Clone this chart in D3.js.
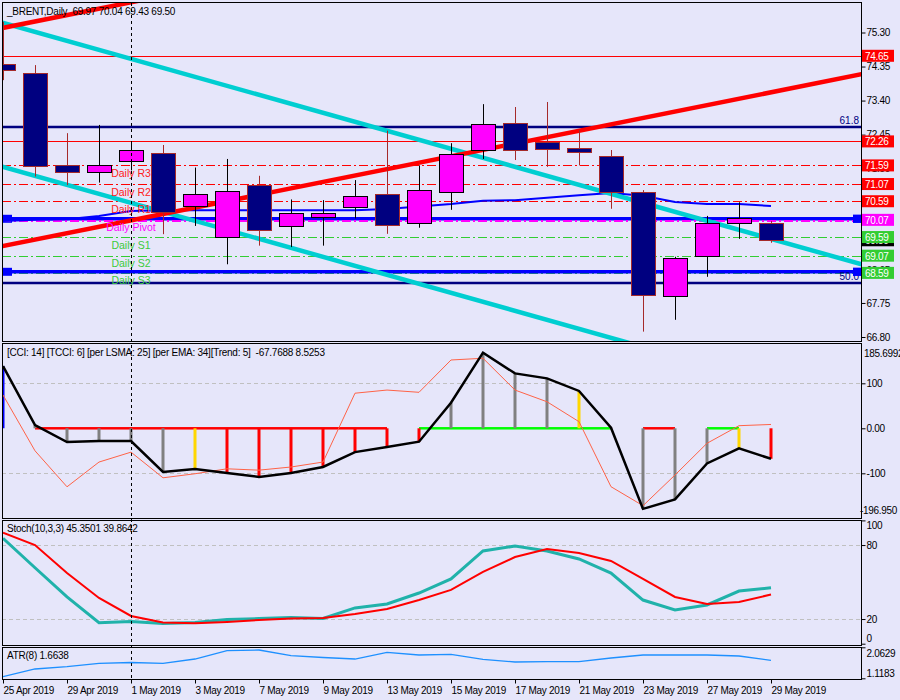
<!DOCTYPE html>
<html><head><meta charset="utf-8">
<script src="https://cdn.jsdelivr.net/npm/d3@7"></script>
<style>
html,body{margin:0;padding:0;background:#E6E6FA;}
svg text{font-family:"Liberation Sans",Arial,sans-serif;font-size:10px;}
</style></head><body>
<svg id="c" width="900" height="700"></svg>
<script>
// ---------------- DATA ----------------
const symbolTitle = "_BRENT,Daily";
const dates = ["25 Apr","26 Apr","29 Apr","30 Apr","1 May","2 May","3 May","6 May","7 May","8 May","9 May","10 May","13 May","14 May","15 May","16 May","17 May","20 May","21 May","22 May","23 May","24 May","27 May","28 May","29 May"];
const dateTickLabels = ["25 Apr 2019","29 Apr 2019","1 May 2019","3 May 2019","7 May 2019","9 May 2019","13 May 2019","15 May 2019","17 May 2019","21 May 2019","23 May 2019","27 May 2019","29 May 2019"];
const openP  = [74.42,74.17,71.60,71.41,71.71,71.94,70.46,69.60,71.04,69.89,70.14,70.42,70.78,69.97,70.84,72.01,72.77,72.25,72.07,71.84,70.84,67.94,69.05,69.97,69.97];
const highP  = [75.60,74.39,72.49,72.72,72.22,72.16,71.53,71.77,71.30,70.64,70.62,71.18,72.56,71.59,72.21,73.30,73.22,73.36,72.58,72.02,70.90,69.04,70.18,70.56,70.04];
const lowP   = [73.97,71.28,71.04,71.11,71.45,69.67,69.90,68.83,69.35,69.31,69.35,70.11,69.68,69.85,70.35,71.77,71.74,71.55,71.59,70.38,66.95,67.28,68.48,69.54,69.43];
const closeP = [74.25,71.57,71.41,71.60,72.02,70.29,70.78,70.87,69.78,70.25,70.25,70.73,69.92,70.89,71.90,72.74,72.01,72.04,71.96,70.84,67.96,69.00,69.97,70.11,69.50];
const maValues = [70.04,70.07,70.09,70.18,70.32,70.34,70.34,70.34,70.34,70.34,70.34,70.34,70.37,70.44,70.51,70.60,70.62,70.69,70.76,70.82,70.74,70.57,70.51,70.51,70.46];

const priceTicks = [75.30,74.35,73.40,72.45,71.50,70.55,69.60,68.65,67.75,66.80];
const pivotNames  = ["Daily R3","Daily R2","Daily R1","Daily Pivot","Daily S1","Daily S2","Daily S3"];
const pivotValues = [71.59,71.07,70.59,70.07,69.59,69.07,68.59];
const redLevels   = [74.65,72.26];
const blueLevels  = [70.10,68.62];
const fibNames    = ["61.8","50.0"];
const fibValues   = [72.66,68.32];
// trend lines: price at first bar and at last bar
const trendNames  = ["cyanUpper","cyanLower","redLower","redUpper"];
const trendStart  = [75.57,71.55,69.34,75.43];
const trendEnd    = [69.54,65.52,73.63,79.71];

const cciValues   = [138.4,7.3,-30.4,-28.2,-28.2,-97.0,-90.4,-99.3,-108.0,-99.3,-86.0,-52.9,-41.6,-29.8,56.9,168.0,122.0,111.0,83.0,1.3,-179.0,-158.0,-78.0,-44.4,-67.7688];
const tcciValues  = [74.0,-50.0,-130.0,-75.0,-53.0,-110.0,-101.0,-90.0,-93.0,-86.0,-75.0,78.0,85.0,80.0,151.8,155.6,85.0,59.0,14.7,-129.8,-172.0,-103.8,-33.3,5.8,8.5253];
const cciHistState= ["up","flat","flat","flat","flat","flat","warn","down","down","down","down","down","down","down","flat","flat","flat","flat","warn","flat","flat","flat","flat","warn","down"];
const cciTrend    = ["up","dn","dn","dn","dn","dn","dn","dn","dn","dn","dn","dn","dn","bull","bull","bull","bull","bull","bull","bull","dn","dn","bull","bull","dn"];
const cciTicks    = [100,0,-100];
const cciTickLabels = ["100","0.00","-100"];
const cciMax = 185.6992, cciMin = -196.950;

const stochMain   = [85.5,61.6,37.9,17.0,18.0,16.4,17.2,19.6,20.4,21.2,20.4,29.0,32.2,41.1,52.5,75.2,79.2,75.2,68.7,57.3,35.4,27.3,31.4,42.7,45.3501];
const stochSignal = [90.0,80.0,57.3,37.1,22.5,17.2,16.5,17.6,19.2,20.4,20.8,24.1,28.1,35.4,43.6,58.2,70.3,76.8,73.6,67.1,52.5,37.9,32.2,33.8,39.8642];
const stochTicks  = [100,80,20,0];

const atrValues   = [1.167,1.402,1.472,1.575,1.600,1.575,1.706,1.959,1.980,1.807,1.752,1.706,1.911,1.828,1.850,1.697,1.615,1.624,1.624,1.737,1.828,1.828,1.828,1.798,1.6638];
const atrMax = 2.0629, atrMin = 1.1183;

// ---------------- LAYOUT ----------------
const svg = d3.select("#c");
const W = 900, H = 700;
const L = 2, R = 861;
const panels = {main:[2,341], cci:[343,518], stoch:[520,645], atr:[647,679]};
svg.append("rect").attr("width",W).attr("height",H).attr("fill","#E6E6FA");

const x = d3.scalePoint().domain(dates).range([3,771]);
const xi = d3.scaleLinear().domain([0,dates.length-1]).range([3,771]);
const yMain = d3.scaleLinear().domain([66.80,75.30]).range([337,32.5]);
const yCci = d3.scaleLinear().domain([-100,100]).range([473.3,383.3]);
const yStoch = d3.scaleLinear().domain([0,100]).range([643.7,520.4]);
const yAtr = d3.scaleLinear().domain([atrMin,atrMax]).range([678.3,647.3]);

const defs = svg.append("defs");
Object.entries(panels).forEach(([k,[t,b]])=>{
  defs.append("clipPath").attr("id","clip-"+k).append("rect")
    .attr("x",L+1).attr("y",t+1).attr("width",R-L-1).attr("height",b-t-1);
});
const gMain = svg.append("g").attr("clip-path","url(#clip-main)");
const gCci = svg.append("g").attr("clip-path","url(#clip-cci)");
const gSt = svg.append("g").attr("clip-path","url(#clip-stoch)");
const gAtr = svg.append("g").attr("clip-path","url(#clip-atr)");

// ---------------- MAIN PANEL ----------------
function hline(g, yv, color, width, dash){
  const l = g.append("line").attr("x1",L).attr("x2",R).attr("y1",yv).attr("y2",yv)
    .attr("stroke",color).attr("stroke-width",width);
  if (dash) l.attr("stroke-dasharray",dash);
  return l;
}
redLevels.forEach(v=>hline(gMain, Math.round(yMain(v))+0.5, "#FF0000", 1));
fibValues.forEach(v=>hline(gMain, Math.round(yMain(v)), "#000080", 2.5));
pivotValues.forEach((v,i)=>{
  const c = i<3 ? "#FF0000" : (i===3 ? "#FF00FF" : "#32CD32");
  hline(gMain, Math.round(yMain(v))+0.5, c, i===3?2:1, "9,3,2,3");
});
blueLevels.forEach(v=>{
  const yy = yMain(v);
  hline(gMain, yy, "#0000FF", 3.5);
  gMain.append("rect").attr("x",L).attr("y",yy-4).attr("width",10).attr("height",8).attr("fill","#0000FF");
  gMain.append("rect").attr("x",R-8).attr("y",yy-4).attr("width",8).attr("height",8).attr("fill","#0000FF");
});
// re-draw pivot over the blue line
hline(gMain, Math.round(yMain(pivotValues[3]))+1, "#FF00FF", 2, "9,3,2,3");

// moving average
gMain.append("path").datum(maValues)
  .attr("d", d3.line().x((d,i)=>xi(i)).y(d=>yMain(d)))
  .attr("fill","none").attr("stroke","#0000FF").attr("stroke-width",2);

// trend lines
const trendColor = {cyanUpper:"#00CED1",cyanLower:"#00CED1",redLower:"#FF0000",redUpper:"#FF0000"};
trendNames.forEach((n,k)=>{
  const n1 = dates.length-1;
  const p = i => trendStart[k] + (trendEnd[k]-trendStart[k])*i/n1;
  gMain.append("line").attr("x1",xi(-1)).attr("y1",yMain(p(-1)))
    .attr("x2",xi(28)).attr("y2",yMain(p(28)))
    .attr("stroke",trendColor[n]).attr("stroke-width",4.5);
});

// candles
const candles = gMain.append("g");
dates.forEach((d,i)=>{
  const cx = Math.round(x(d))+0.5;
  const bull = closeP[i] >= openP[i];
  const wickC = bull ? "#000000" : "#A52A2A";
  candles.append("line").attr("x1",cx).attr("x2",cx)
    .attr("y1",yMain(highP[i])).attr("y2",yMain(lowP[i]))
    .attr("stroke",wickC).attr("stroke-width",1);
  const yt = Math.round(yMain(Math.max(openP[i],closeP[i])))+0.5;
  const yb = Math.round(yMain(Math.min(openP[i],closeP[i])))+0.5;
  candles.append("rect").attr("x",cx-12).attr("y",yt).attr("width",24).attr("height",Math.max(1,yb-yt))
    .attr("fill", bull ? "#FF00FF" : "#000080")
    .attr("stroke", bull ? "#000000" : "#A52A2A").attr("stroke-width",1);
});

// pivot texts
pivotNames.forEach((n,i)=>{
  const c = i<3 ? "#FF2020" : (i===3 ? "#FF00FF" : "#3CCB3C");
  gMain.append("text").attr("x",x(dates[4])).attr("y",yMain(pivotValues[i])+11.5)
    .attr("text-anchor","middle").attr("fill",c).style("font-size","10.5px").text(n);
});
fibNames.forEach((n,i)=>{
  gMain.append("text").attr("x",R-2).attr("y",yMain(fibValues[i])-3)
    .attr("text-anchor","end").attr("fill","#000080").text(n);
});

// header
svg.append("text").attr("x",7).attr("y",14.5).style("white-space","pre").style("letter-spacing","-0.25px")
  .attr("fill","#000").text(symbolTitle + "  " + [openP,highP,lowP,closeP].map(a=>a[a.length-1].toFixed(2)).join(" "));

// ---------------- CCI PANEL ----------------
[100,-100].forEach(v=>hline(gCci, Math.round(yCci(v))+0.5, "#C0C0C0", 1, "4,3"));
const trendCol = {up:"#0000FF", dn:"#FF0000", bull:"#00FF00"};
for (let i=0;i<dates.length-1;i++){
  if (cciTrend[i]===cciTrend[i+1]){
    gCci.append("line").attr("x1",xi(i)).attr("x2",xi(i+1)).attr("y1",yCci(0)).attr("y2",yCci(0))
      .attr("stroke",trendCol[cciTrend[i]]).attr("stroke-width",2.5);
  }
}
const histCol = {up:"#0000FF", flat:"#808080", warn:"#FFD700", down:"#FF0000"};
cciValues.forEach((v,i)=>{
  gCci.append("line").attr("x1",xi(i)).attr("x2",xi(i)).attr("y1",yCci(0)).attr("y2",yCci(v))
    .attr("stroke",histCol[cciHistState[i]]).attr("stroke-width",3);
});
gCci.append("path").datum(tcciValues)
  .attr("d", d3.line().x((d,i)=>xi(i)).y(d=>yCci(d)))
  .attr("fill","none").attr("stroke","#FF6347").attr("stroke-width",1);
gCci.append("path").datum(cciValues)
  .attr("d", d3.line().x((d,i)=>xi(i)).y(d=>yCci(d)))
  .attr("fill","none").attr("stroke","#000000").attr("stroke-width",2.5);
svg.append("text").attr("x",7).attr("y",355.5).style("white-space","pre").style("letter-spacing","-0.25px")
  .text("[CCI: 14] [TCCI: 6] [per LSMA: 25] [per EMA: 34][Trend: 5]  " + cciValues[cciValues.length-1].toFixed(4) + " " + tcciValues[tcciValues.length-1].toFixed(4));

// ---------------- STOCH PANEL ----------------
[80,20].forEach(v=>hline(gSt, Math.round(yStoch(v))+0.5, "#C0C0C0", 1, "4,3"));
gSt.append("path").datum(stochMain)
  .attr("d", d3.line().x((d,i)=>xi(i)).y(d=>yStoch(d)))
  .attr("fill","none").attr("stroke","#20B2AA").attr("stroke-width",3);
gSt.append("path").datum(stochSignal)
  .attr("d", d3.line().x((d,i)=>xi(i)).y(d=>yStoch(d)))
  .attr("fill","none").attr("stroke","#FF0000").attr("stroke-width",2);
svg.append("text").attr("x",7).attr("y",532).style("letter-spacing","-0.25px")
  .text("Stoch(10,3,3) " + stochMain[stochMain.length-1].toFixed(4) + " " + stochSignal[stochSignal.length-1].toFixed(4));

// ---------------- ATR PANEL ----------------
gAtr.append("path").datum(atrValues)
  .attr("d", d3.line().x((d,i)=>xi(i)).y(d=>yAtr(d)))
  .attr("fill","none").attr("stroke","#1E90FF").attr("stroke-width",1.3);
svg.append("text").attr("x",7).attr("y",659).style("letter-spacing","-0.25px")
  .text("ATR(8) " + atrValues[atrValues.length-1].toFixed(4));

// ---------------- PANEL BORDERS ----------------
Object.values(panels).forEach(([t,b])=>{
  svg.append("rect").attr("x",L+0.5).attr("y",t+0.5).attr("width",R-L).attr("height",b-t)
    .attr("fill","none").attr("stroke","#000").attr("stroke-width",1);
});

// ---------------- AXES ----------------
function styleAxis(g){
  g.select(".domain").remove();
  g.selectAll(".tick line").attr("stroke","#000");
  g.selectAll(".tick text").attr("fill","#000").style("font-size","10px").style("letter-spacing","-0.3px")
    .style("font-family","'Liberation Sans',Arial,sans-serif");
}
const axMain = svg.append("g").attr("transform",`translate(${R+0.5},0)`)
  .call(d3.axisRight(yMain).tickValues(priceTicks).tickFormat(d3.format(".2f")).tickSize(4).tickPadding(1));
styleAxis(axMain);

// price label boxes
const boxVals = [74.65,72.26,71.59,71.07,70.59,70.07,closeP[closeP.length-1],69.59,69.07,68.59];
const boxCols = ["#FF0000","#FF0000","#FF0000","#FF0000","#FF0000","#FF00FF","#000000","#32CD32","#32CD32","#32CD32"];
boxVals.forEach((v,i)=>{
  const yy = yMain(v);
  const g = svg.append("g");
  g.append("rect").attr("x",R+1).attr("y",yy-6).attr("width",32).attr("height",12).attr("fill",boxCols[i]);
  g.append("text").attr("x",R+4).attr("y",yy+4).attr("fill","#FFFFFF").style("letter-spacing","-0.3px").text(v.toFixed(2));
});
blueLevels.forEach(v=>{
  svg.append("rect").attr("x",R-8).attr("y",yMain(v)-4).attr("width",8).attr("height",8).attr("fill","#0000FF");
});

const axCci = svg.append("g").attr("transform",`translate(${R+0.5},0)`)
  .call(d3.axisRight(yCci).tickValues(cciTicks).tickFormat((d,i)=>cciTickLabels[i]).tickSize(4).tickPadding(1));
styleAxis(axCci);
svg.append("text").attr("x",R+3).attr("y",357).style("letter-spacing","-0.3px").text(cciMax.toFixed(4));
svg.append("text").attr("x",R-1).attr("y",514).style("letter-spacing","-0.3px").text(cciMin.toFixed(3));

const axSt = svg.append("g").attr("transform",`translate(${R+0.5},0)`)
  .call(d3.axisRight(yStoch).tickValues(stochTicks).tickFormat(d3.format("d")).tickSize(4).tickPadding(1));
styleAxis(axSt);
axSt.selectAll(".tick").filter(d=>d===100).select("text").attr("dy","0.85em");
axSt.selectAll(".tick").filter(d=>d===0).select("text").attr("dy","-0.25em");

const axAtr = svg.append("g").attr("transform",`translate(${R+0.5},0)`)
  .call(d3.axisRight(yAtr).tickValues([atrMax,atrMin]).tickFormat(d3.format(".4f")).tickSize(4).tickPadding(1));
styleAxis(axAtr);
axAtr.selectAll(".tick").filter(d=>d===atrMax).select("text").attr("dy","0.95em");
axAtr.selectAll(".tick").filter(d=>d===atrMin).select("text").attr("dy","-0.2em");

const tickDates = dates.filter((d,i)=>i%2===0);
const axX = svg.append("g").attr("transform",`translate(0,${panels.atr[1]+0.5})`)
  .call(d3.axisBottom(x).tickValues(tickDates).tickFormat((d,i)=>dateTickLabels[i]).tickSize(4).tickPadding(3));
styleAxis(axX);
axX.selectAll(".tick text").attr("text-anchor","start").attr("x",0);

// vertical dashed separator on 1 May
svg.append("line").attr("x1",Math.round(x(dates[4]))+0.5).attr("x2",Math.round(x(dates[4]))+0.5)
  .attr("y1",panels.main[0]+1).attr("y2",panels.atr[1])
  .attr("stroke","#000").attr("stroke-width",1).attr("stroke-dasharray","3,3");
</script>
</body></html>
